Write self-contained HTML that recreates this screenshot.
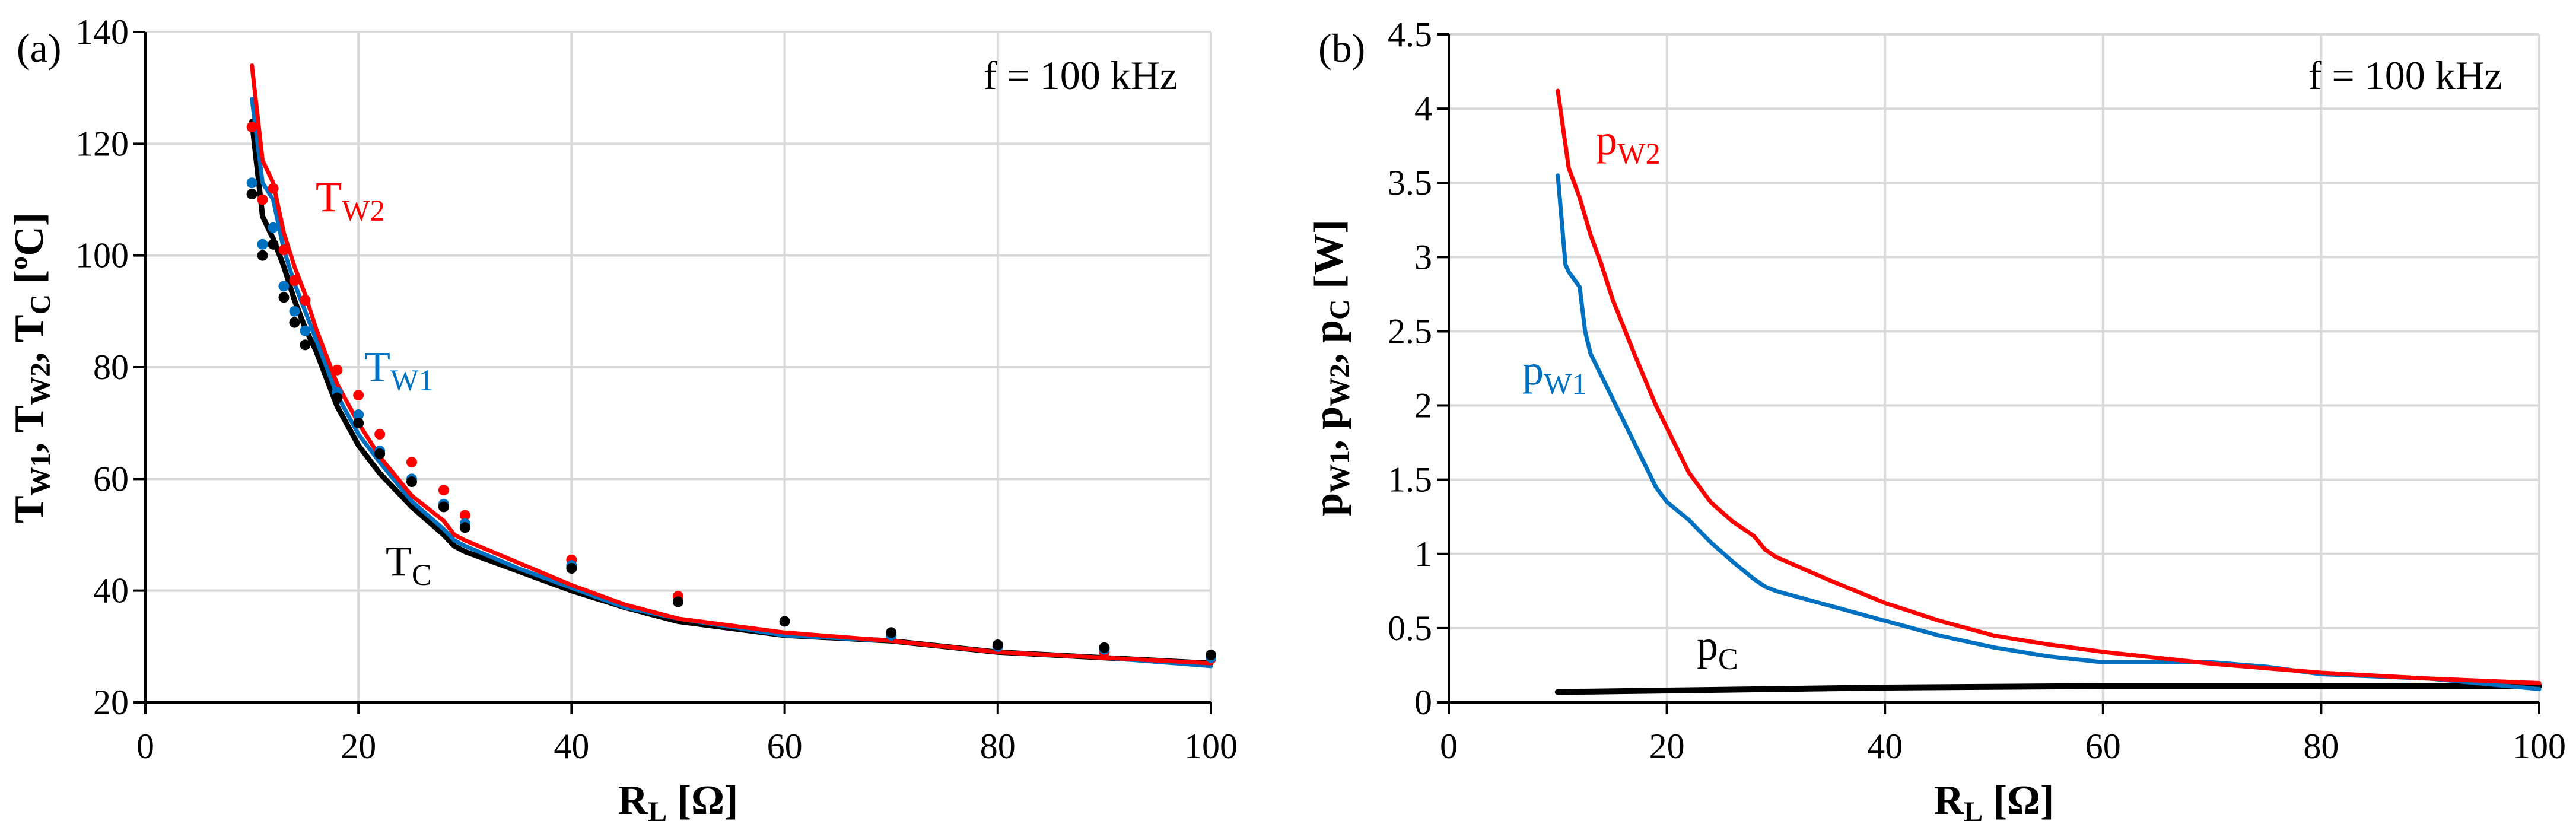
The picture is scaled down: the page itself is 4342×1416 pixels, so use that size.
<!DOCTYPE html>
<html><head><meta charset="utf-8">
<style>
html,body{margin:0;padding:0;background:#fff;}
svg, svg text{font-family:"Liberation Serif","Times New Roman",serif;}
</style></head>
<body>
<svg id="fig" width="4342" height="1411" viewBox="0 0 4342 1411" xmlns="http://www.w3.org/2000/svg" font-family="Liberation Serif, serif"></svg>
<script>
// ---- Chart (a) data ----
const aLineX = [10,11,12,13,14,15,16,18,20,22,25,28,29,30,35,40,45,50,60,70,80,90,100];
const aTW2 = [134,117,113,104,98,93,87,77,70,64,57,52.5,50,49,45,41,37.5,35,32.5,31,29,28,27];
const aTW1 = [128,113,110,101,95,90,85,75,68,63,56,51,49,48,44,40.5,37,35,32,31,29,28,26.5];
const aTC  = [124,107,103,98,92,87,83,73,66,61,55,50,48,47,43.5,40,37,34.5,32,31,29,28,27];
const aRedPtX = [10,11,12,13,14,15,18,20,22,25,28,30,40,50,70,80,90,100];
const aRedPtY = [123,110,112,101,95.5,92,79.5,75,68,63,58,53.5,45.5,39,32,30,29,27.8];
const aBluePtX = [10,11,12,13,14,15,18,20,22,25,28,30,40,50,70,80,90,100];
const aBluePtY = [113,102,105,94.5,90,86.5,75.5,71.5,65,60,55.5,52,44.5,38,32,30,29.5,28];
const aBlkPtX = [10,11,12,13,14,15,18,20,22,25,28,30,40,50,60,70,80,90,100];
const aBlkPtY = [111,100,102,92.5,88,84,74.5,70,64.5,59.5,55,51.3,44,38,34.5,32.5,30.3,29.8,28.5];
const aXTicks = [0,20,40,60,80,100];
const aYTicks = [20,40,60,80,100,120,140];
// ---- Chart (b) data ----
const bW2X = [10,11,12,13,14,15,17,19,20,22,24,26,28,29,30,35,40,45,50,55,60,65,70,80,90,100];
const bW2Y = [4.12,3.6,3.4,3.15,2.95,2.72,2.35,2.0,1.85,1.55,1.35,1.22,1.12,1.03,0.98,0.82,0.67,0.55,0.45,0.39,0.34,0.3,0.26,0.2,0.16,0.13];
const bW1X = [10,10.7,11,12,12.5,13,15,17,19,20,22,24,26,28,29,30,35,40,45,50,55,60,65,70,75,80,90,100];
const bW1Y = [3.55,2.95,2.9,2.8,2.5,2.35,2.05,1.75,1.45,1.35,1.23,1.08,0.95,0.83,0.78,0.75,0.65,0.55,0.45,0.37,0.31,0.27,0.27,0.27,0.24,0.19,0.16,0.09];
const bCX = [10,20,40,60,100];
const bCY = [0.07,0.08,0.1,0.11,0.11];
const bXTicks = [0,20,40,60,80,100];
const bYTicks = [0,0.5,1,1.5,2,2.5,3,3.5,4,4.5];
const bYLabels = ["0","0.5","1","1.5","2","2.5","3","3.5","4","4.5"];

const NS="http://www.w3.org/2000/svg";
const svg=document.getElementById('fig');
function mk(tag,attrs,parent){const e=document.createElementNS(NS,tag);for(const k in attrs)e.setAttribute(k,attrs[k]);(parent||svg).appendChild(e);return e;}

function axes(x0,x1,y0,y1,xmin,xmax,ymin,ymax){
  return {sx:v=>x0+(v-xmin)/(xmax-xmin)*(x1-x0), sy:v=>y0-(v-ymin)/(ymax-ymin)*(y0-y1)};
}
function drawFrame(g,ax,x0,x1,y0,y1,xt,yt,ylab){
  xt.forEach(v=>{ if(v===xt[0])return;
    const l=mk('line',{x1:ax.sx(v),x2:ax.sx(v),y1:y1,y2:y0,stroke:'#d9d9d9','stroke-width':4},g);
    
    });
  yt.forEach(v=>{ if(v===yt[0])return;
    const l=mk('line',{x1:x0,x2:x1,y1:ax.sy(v),y2:ax.sy(v),stroke:'#d9d9d9','stroke-width':4},g);
    
    });
  const ya=mk('line',{x1:x0,x2:x0,y1:y1,y2:y0+20,stroke:'#000','stroke-width':4},g);
  
  
  const xa=mk('line',{x1:x0-20,x2:x1,y1:y0,y2:y0,stroke:'#000','stroke-width':4},g);
  
  
  yt.forEach((v,i)=>{
    mk('line',{x1:x0-20,x2:x0,y1:ax.sy(v),y2:ax.sy(v),stroke:'#000','stroke-width':4},g);
    const t=mk('text',{x:x0-28,y:ax.sy(v)+20,'text-anchor':'end','font-size':60},g);
    t.textContent=ylab?ylab[i]:v;
    
    
  });
  xt.forEach(v=>{
    mk('line',{x1:ax.sx(v),x2:ax.sx(v),y1:y0,y2:y0+20,stroke:'#000','stroke-width':4},g);
    const t=mk('text',{x:ax.sx(v),y:y0+94,'text-anchor':'middle','font-size':60},g);
    t.textContent=v;
    
    
  });
}
function line(g,ax,xs,ys,color,w,name){
  const d=xs.map((x,i)=>(i?'L':'M')+ax.sx(x).toFixed(1)+' '+ax.sy(ys[i]).toFixed(1)).join(' ');
  const p=mk('path',{d:d,fill:'none',stroke:color,'stroke-width':w,'stroke-linejoin':'round','stroke-linecap':'round'},g);
  
  
}
function pts(g,ax,xs,ys,color,name){
  xs.forEach((x,i)=>{
    const c=mk('circle',{cx:ax.sx(x),cy:ax.sy(ys[i]),r:9,fill:color},g);
    
    
  });
}
function label(g,x,y,main,sub,color,name,size){
  size=size||72;
  const t=mk('text',{x:x,y:y,fill:color,'font-size':size},g);
  
  
  const a=mk('tspan',{},t);a.textContent=main;
  if(sub){const b=mk('tspan',{'font-size':size*0.7,dy:16},t);b.textContent=sub;}
  return t;
}

// Chart (a)
const gA=mk('g',{});


const AX0=245,AX1=2041,AY0=1184,AY1=54;
const axA=axes(AX0,AX1,AY0,AY1,0,100,20,140);
drawFrame(gA,axA,AX0,AX1,AY0,AY1,aXTicks,aYTicks);
line(gA,axA,aLineX,aTC,'#000',9,'tc-line');
line(gA,axA,aLineX,aTW1,'#0070c0',7,'tw1-line');
line(gA,axA,aLineX,aTW2,'#ff0000',7,'tw2-line');
pts(gA,axA,aRedPtX,aRedPtY,'#ff0000','tw2-point');
pts(gA,axA,aBluePtX,aBluePtY,'#0070c0','tw1-point');
pts(gA,axA,aBlkPtX,aBlkPtY,'#000','tc-point');
label(gA,532,356,'T','W2','#ff0000','tw2-label');
label(gA,614,642,'T','W1','#0070c0','tw1-label');
label(gA,650,970,'T','C','#000','tc-label');
let t=mk('text',{x:1985,y:150,'text-anchor':'end','font-size':68},gA);t.textContent='f = 100 kHz';

t=mk('text',{x:28,y:104,'font-size':68},gA);t.textContent='(a)';

t=mk('text',{x:1143,y:1372,'text-anchor':'middle','font-size':70,'font-weight':'bold'},gA);

t.innerHTML='R<tspan font-size="48" dy="12">L</tspan><tspan dy="-12"> [Ω]</tspan>';
t=mk('text',{x:0,y:0,'text-anchor':'middle','font-size':70,'font-weight':'bold',transform:'translate(72,620) rotate(-90)'},gA);

t.innerHTML='T<tspan font-size="48" dy="12">W1</tspan><tspan dy="-12">, T</tspan><tspan font-size="48" dy="12">W2</tspan><tspan dy="-12">, T</tspan><tspan font-size="48" dy="12">C</tspan><tspan dy="-12"> [ºC]</tspan>';

// Chart (b)
const gB=mk('g',{});


const BX0=2442,BX1=4280,BY0=1184,BY1=58;
const axB=axes(BX0,BX1,BY0,BY1,0,100,0,4.5);
drawFrame(gB,axB,BX0,BX1,BY0,BY1,bXTicks,bYTicks,bYLabels);
line(gB,axB,bCX,bCY,'#000',10,'pc-line');
line(gB,axB,bW1X,bW1Y,'#0070c0',7,'pw1-line');
line(gB,axB,bW2X,bW2Y,'#ff0000',7,'pw2-line');
label(gB,2690,260,'p','W2','#ff0000','pw2-label');
label(gB,2566,648,'p','W1','#0070c0','pw1-label');
label(gB,2860,1112,'p','C','#000','pc-label');
t=mk('text',{x:4218,y:150,'text-anchor':'end','font-size':68},gB);t.textContent='f = 100 kHz';

t=mk('text',{x:2222,y:104,'font-size':68},gB);t.textContent='(b)';

t=mk('text',{x:3361,y:1372,'text-anchor':'middle','font-size':70,'font-weight':'bold'},gB);

t.innerHTML='R<tspan font-size="48" dy="12">L</tspan><tspan dy="-12"> [Ω]</tspan>';
t=mk('text',{x:0,y:0,'text-anchor':'middle','font-size':70,'font-weight':'bold',transform:'translate(2262,620) rotate(-90)'},gB);

t.innerHTML='p<tspan font-size="48" dy="12">W1</tspan><tspan dy="-12">, p</tspan><tspan font-size="48" dy="12">W2</tspan><tspan dy="-12">, p</tspan><tspan font-size="48" dy="12">C</tspan><tspan dy="-12"> [W]</tspan>';
</script>
</body></html>
